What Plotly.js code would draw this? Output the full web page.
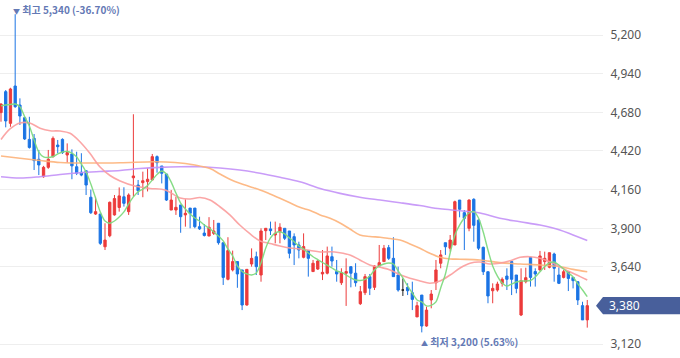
<!DOCTYPE html>
<html><head><meta charset="utf-8">
<script src="https://cdn.plot.ly/plotly-3.0.1.min.js"></script>
<style>html,body{margin:0;padding:0;background:#fff;}#chart{width:680px;height:358px;}</style>
</head><body><div id="chart"></div>
<script>
// ---- candle data (index = trading day) ----
const openP = [4678,4819,4606,4857,4729,4644,4498,4505,4364,4247,
4310,4382,4460,4498,4393,4400,4314,4277,4287,4109,
3996,3996,3776,3850,3990,4040,4112,4012,4240,4191,
4207,4214,4225,4382,4319,4265,4023,4023,4057,3990,
4036,4036,3911,3868,3848,3866,3934,3803,3557,3620,
3676,3620,3384,3660,3709,3586,3884,3896,3855,3877,
3900,3882,3844,3788,3705,3750,3609,3626,3593,3598,
3709,3609,3534,3598,3642,3598,3393,3467,3575,3503,
3646,3676,3770,3698,3586,3485,3503,3467,3304,3451,
3243,3418,3534,3665,3803,3766,3788,4090,4005,3900,
4095,3955,3772,3608,3480,3485,3530,3579,3676,3586,
3317,3541,3705,3609,3620,3676,3638,3727,3586,3570,
3608,3570,3541,3380,3284];
const highP = [4740,4830,4845,5340,4774,4650,4650,4534,4427,4320,
4427,4518,4494,4505,4471,4431,4415,4405,4287,4160,
4112,3996,3934,4080,4124,4175,4176,4135,4667,4225,
4281,4304,4400,4390,4319,4265,4157,4112,4057,4095,
4036,4036,3978,3929,3975,3956,3934,3803,3840,3750,
3676,3620,3624,3765,3743,3900,3900,3945,3945,3934,
3900,3882,3866,3810,3866,3750,3687,3687,3754,3777,
3777,3687,3631,3698,3642,3665,3512,3593,3593,3653,
3788,3788,3788,3840,3642,3563,3530,3541,3406,3451,
3373,3485,3687,3754,3803,3855,4086,4090,4023,4095,
4102,3960,3777,3608,3530,3541,3570,3631,3680,3586,
3631,3635,3705,3631,3748,3743,3736,3736,3638,3620,
3608,3570,3541,3406,3418];
const lowP = [4617,4579,4583,4710,4595,4494,4436,4292,4258,4240,
4300,4375,4405,4400,4341,4230,4258,4250,4124,3996,
3990,3788,3754,3840,3985,4012,4046,3990,4112,4124,
4109,4148,4225,4274,4202,4084,4023,3990,3870,3911,
3900,3900,3889,3845,3848,3855,3790,3519,3550,3610,
3500,3350,3380,3642,3586,3541,3821,3855,3799,3799,
3821,3698,3653,3698,3698,3575,3609,3620,3552,3590,
3642,3541,3519,3378,3503,3508,3384,3451,3451,3485,
3646,3676,3687,3575,3474,3445,3451,3350,3304,3200,
3238,3362,3485,3631,3721,3743,3788,3974,3754,3880,
3810,3754,3586,3396,3396,3474,3508,3485,3451,3463,
3310,3530,3508,3508,3615,3620,3631,3541,3525,3563,
3478,3496,3384,3284,3232];
const closeP = [4736,4622,4837,4718,4655,4501,4444,4355,4326,4310,
4364,4505,4449,4409,4409,4320,4270,4258,4191,4005,
4012,3799,3821,4075,4100,4118,4068,4124,4252,4153,
4220,4230,4382,4341,4270,4090,4090,4041,3978,4001,
4001,3911,3896,3852,3907,3882,3803,3570,3750,3676,
3593,3384,3624,3698,3642,3882,3900,3884,3866,3907,
3833,3732,3788,3754,3777,3698,3665,3680,3604,3714,
3680,3593,3602,3609,3598,3534,3474,3575,3497,3646,
3669,3766,3698,3575,3485,3485,3480,3422,3380,3243,
3350,3458,3620,3721,3776,3821,4079,4028,3967,4090,
3920,3766,3608,3445,3496,3525,3557,3557,3557,3496,
3548,3568,3570,3593,3714,3698,3736,3631,3530,3608,
3563,3548,3418,3284,3380];

// ---- moving averages ----
const ma5 = [4723,4729,4733,4736,4718,4651,4588,4494,4413,4380,
4376,4383,4400,4413,4417,4406,4380,4333,4279,4198,
4104,4010,3949,3934,3949,3976,4010,4064,4111,4146,
4164,4188,4225,4262,4285,4265,4211,4137,4070,4030,
3996,3969,3949,3922,3902,3875,3848,3815,3761,3714,
3647,3610,3593,3586,3600,3667,3768,3835,3868,3877,
3862,3835,3810,3781,3761,3734,3709,3690,3670,3653,
3633,3613,3603,3586,3566,3552,3549,3556,3579,3620,
3647,3660,3667,3660,3613,3566,3512,3465,3418,3405,
3378,3382,3405,3499,3593,3734,3855,3922,3969,4003,
4012,3969,3875,3754,3647,3579,3532,3512,3525,3539,
3546,3546,3549,3573,3608,3643,3667,3673,3653,3626,
3600,3573,3526,3485,3440];
const ma20X = [0,1.9,4.0,6.1,8.25,10.4,12.5,14.6,16.7,18.8,20.9,23.05,25.2,28.3,31.5,34.7,37.9,40.0,42.1,44.2,46.3,48.4,50.5,52.7,54.8,56.9,59.0,61.1,63.2,65.4,67.5,70.6,73.8,75.9,78.0,80.2,82.3,84.4,86.5,88.6,90.7,92.85,95.0,97.1,99.2,101.3,103.4,105.5,107.7,109.8,111.9,114.0,116.1,118.2,120.3,122.5,124];
const ma20 = [4497,4568,4608,4608,4573,4556,4554,4539,4482,4404,4314,4255,4218,4184,4168,4158,4104,4097,4107,4090,4045,3990,3922,3862,3815,3798,3781,3768,3761,3751,3741,3741,3721,3687,3654,3638,3620,3587,3564,3546,3530,3546,3586,3633,3665,3673,3660,3665,3682,3705,3709,3698,3675,3642,3608,3575,3552];
const ma60X = [0,4.0,8.25,12.5,18.8,25.2,32.6,36.8,41.0,44.2,46.3,48.4,50.5,52.7,54.8,56.9,59.0,61.1,63.2,65.4,67.5,69.6,71.7,73.8,75.9,78.0,80.2,82.3,84.4,86.5,88.6,90.7,92.85,95.0,97.1,101.3,105.5,109.8,114.0,118.2,121.0,124];
const ma60 = [4386,4371,4356,4343,4339,4341,4348,4343,4326,4302,4265,4230,4203,4180,4158,4131,4102,4072,4041,4020,3990,3967,3936,3895,3855,3845,3840,3831,3821,3795,3766,3732,3705,3694,3692,3687,3669,3660,3653,3642,3624,3608];
const ma120X = [0,4.0,8.25,12.5,16.7,20.9,25.2,29.4,33.6,37.9,42.1,46.3,50.5,54.8,59.0,63.2,67.5,71.7,75.9,80.2,84.4,88.6,92.85,97.1,101.3,105.5,109.8,114.0,118.2,121.0,124];
const ma120 = [4247,4238,4247,4262,4274,4282,4289,4302,4310,4314,4314,4306,4292,4270,4243,4213,4168,4135,4109,4090,4072,4053,4031,4018,4003,3967,3944,3922,3889,3855,3818];

// ---- axis ticks ----
const yTicks = [3120,3380,3640,3900,4160,4420,4680,4940,5200];

const idx = openP.map((_, i) => i);
const fmt = v => v.toLocaleString('en-US');
const RED = '#ec3b3b', BLUE = '#1b74e4';

const isDoji = i => openP[i] === closeP[i];
const mainIdx = idx.filter(i => !isDoji(i));
const dojiIdx = idx.filter(i => isDoji(i));
const pick = (arr, ids) => ids.map(i => arr[i]);

const traces = [
  {type:'candlestick', x: mainIdx, open: pick(openP,mainIdx), high: pick(highP,mainIdx), low: pick(lowP,mainIdx), close: pick(closeP,mainIdx),
   increasing:{line:{color:RED, width:1}, fillcolor:RED}, decreasing:{line:{color:BLUE, width:1}, fillcolor:BLUE},
   hoverinfo:'skip', showlegend:false},
  {type:'candlestick', x: dojiIdx, open: pick(openP,dojiIdx), high: pick(highP,dojiIdx), low: pick(lowP,dojiIdx), close: pick(closeP,dojiIdx),
   increasing:{line:{color:'#222', width:1}, fillcolor:'#222'}, decreasing:{line:{color:'#222', width:1}, fillcolor:'#222'},
   hoverinfo:'skip', showlegend:false},
  {type:'scatter', mode:'lines', x: ma120X, y: ma120, line:{color:'#c391f7', width:1.6, shape:'spline'}, opacity:0.9, hoverinfo:'skip', showlegend:false},
  {type:'scatter', mode:'lines', x: ma60X, y: ma60, line:{color:'#fdb27a', width:1.6, shape:'spline'}, opacity:0.9, hoverinfo:'skip', showlegend:false},
  {type:'scatter', mode:'lines', x: ma20X, y: ma20, line:{color:'#fb9c9c', width:1.6, shape:'spline'}, opacity:0.9, hoverinfo:'skip', showlegend:false},
  {type:'scatter', mode:'lines', x: idx, y: ma5, line:{color:'#7fda7f', width:1.4, shape:'spline', smoothing:0.8}, opacity:0.95, hoverinfo:'skip', showlegend:false}
];

// high / low markers
const lastClose = closeP[closeP.length-1];
let hiI = 0, loI = 0;
highP.forEach((v,i)=>{ if (v > highP[hiI]) hiI = i; });
lowP.forEach((v,i)=>{ if (v < lowP[loI]) loI = i; });
const pct = v => { const p = (lastClose - v) / v * 100; return (Math.round(p*100 + (p>=0?1e-9:-1e-9))/100).toFixed(2); };
const noteColor = '#6479b5';
const noteFont = {family:'"Noto Sans CJK KR", "Noto Sans", sans-serif', size:10, color:noteColor, weight:'bold'};

const W = 680, H = 358, R = 77;
const plotW = W - R;
const boxColor = '#485f9b';
const halfBox = 8.6 / (H / (5435.4 - 3027.8));
const tipX = 1 - 7/plotW, endX = (W - plotW)/plotW + 1;

const layout = {
  width: W, height: H,
  margin: {l:0, r:R, t:0, b:0, pad:0},
  paper_bgcolor:'#fff', plot_bgcolor:'#fff',
  showlegend:false,
  dragmode:false,
  xaxis: {range:[-0.2115, 127.33], showgrid:false, zeroline:false, showticklabels:false, ticks:'', showline:false,
          rangeslider:{visible:false}, fixedrange:true},
  yaxis: {side:'right', range:[3027.8, 5435.4], tickvals: yTicks.filter(v => v !== lastClose),
          tickformat:',d', showgrid:true, gridcolor:'#eeeeee', gridwidth:1, zeroline:false, showline:false,
          ticks:'outside', ticklen:4, tickcolor:'rgba(0,0,0,0)', automargin:false, fixedrange:true,
          tickfont:{family:'"Noto Sans", "Noto Sans CJK KR", sans-serif', size:12, color:'#555'}},
  shapes: [
    {type:'path', xref:'paper', yref:'y', layer:'above',
     path:`M ${tipX},${lastClose} L 1,${lastClose+halfBox} L ${endX},${lastClose+halfBox} L ${endX},${lastClose-halfBox} L 1,${lastClose-halfBox} Z`,
     fillcolor:boxColor, line:{width:0}}
  ],
  annotations: [
    {xref:'x', yref:'y', x: hiI, y: highP[hiI], xanchor:'left', yanchor:'bottom', xshift:-4, yshift:-5, showarrow:false,
     text:`<span style="font-size:7px">▼</span> 최고 ${fmt(highP[hiI])} (${pct(highP[hiI])}%)`, font: noteFont},
    {xref:'x', yref:'y', x: loI, y: lowP[loI], xanchor:'left', yanchor:'top', xshift:-3, yshift:0, showarrow:false,
     text:`<span style="font-size:7px">▲</span> 최저 ${fmt(lowP[loI])} (${pct(lowP[loI])}%)`, font: noteFont},
    {xref:'paper', yref:'y', x: 1 + 4/plotW, y: lastClose, xanchor:'left', yanchor:'middle', showarrow:false,
     text: fmt(lastClose), font:{family:'"Noto Sans", sans-serif', size:12, color:'#fff'}}
  ]
};

Plotly.newPlot('chart', traces, layout, {displayModeBar:false, staticPlot:true});
</script></body></html>
